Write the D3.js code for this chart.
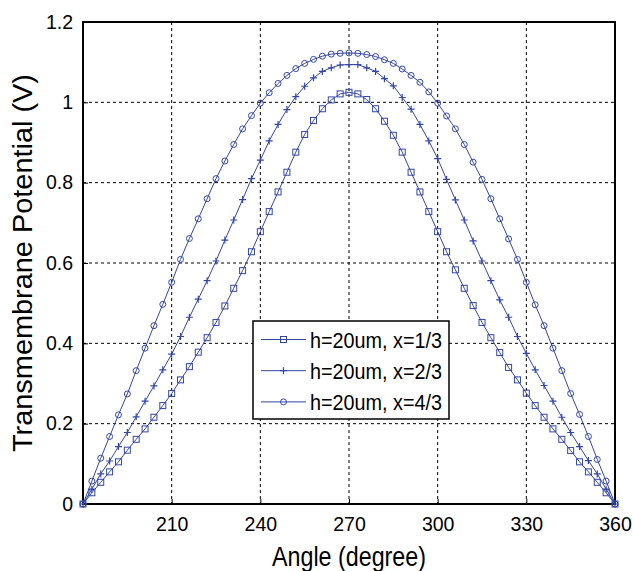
<!DOCTYPE html>
<html>
<head>
<meta charset="utf-8">
<script src="https://cdn.jsdelivr.net/npm/d3@7"></script>
<style>
  body { margin: 0; background: #fff; }
  svg text { font-family: "Liberation Sans", Arial, sans-serif; fill: #000; }
</style>
</head>
<body>
<div id="chart"></div>
<script>
// Transmembrane potential vs angle, three electrode positions

const angles = [180, 183, 186, 189, 192, 195, 198, 201, 204, 207, 210, 213, 216, 219, 222, 225, 228, 231, 234, 237,
    240, 243, 246, 249, 252, 255, 258, 261, 264, 267, 270, 273, 276, 279, 282, 285, 288, 291, 294, 297,
    300, 303, 306, 309, 312, 315, 318, 321, 324, 327, 330, 333, 336, 339, 342, 345, 348, 351, 354, 357, 360];

// x = 1/3 (squares)
const seriesA = [0, 0.028, 0.054, 0.080, 0.105, 0.134, 0.161, 0.187, 0.216, 0.245, 0.275, 0.309, 0.342, 0.378, 0.414, 0.452, 0.493, 0.537, 0.581, 0.628,
    0.678, 0.728, 0.777, 0.826, 0.876, 0.920, 0.955, 0.984, 1.006, 1.021, 1.025, 1.021, 1.007, 0.984, 0.953, 0.918, 0.876, 0.826, 0.777, 0.728,
    0.678, 0.628, 0.583, 0.537, 0.494, 0.452, 0.414, 0.377, 0.340, 0.309, 0.276, 0.245, 0.216, 0.187, 0.161, 0.133, 0.105, 0.080, 0.054, 0.028, 0];

// x = 2/3 (plus)
const seriesB = [0, 0.037, 0.075, 0.107, 0.143, 0.178, 0.217, 0.256, 0.294, 0.334, 0.373, 0.417, 0.465, 0.510, 0.556, 0.605, 0.657, 0.707, 0.758, 0.810,
    0.856, 0.904, 0.945, 0.982, 1.014, 1.040, 1.061, 1.077, 1.086, 1.093, 1.094, 1.094, 1.086, 1.077, 1.059, 1.041, 1.012, 0.983, 0.945, 0.904,
    0.860, 0.808, 0.757, 0.707, 0.655, 0.605, 0.556, 0.508, 0.465, 0.417, 0.375, 0.334, 0.295, 0.256, 0.216, 0.178, 0.143, 0.108, 0.075, 0.037, 0];

// x = 4/3 (circles)
const seriesC = [0, 0.057, 0.114, 0.168, 0.222, 0.274, 0.332, 0.388, 0.444, 0.497, 0.552, 0.609, 0.661, 0.710, 0.760, 0.810, 0.854, 0.895, 0.934, 0.967,
    0.998, 1.024, 1.047, 1.067, 1.084, 1.097, 1.107, 1.115, 1.120, 1.122, 1.123, 1.122, 1.119, 1.114, 1.106, 1.097, 1.083, 1.067, 1.050, 1.026,
    0.998, 0.966, 0.934, 0.895, 0.851, 0.808, 0.760, 0.710, 0.660, 0.609, 0.552, 0.496, 0.444, 0.388, 0.332, 0.275, 0.223, 0.168, 0.111, 0.057, 0];

const seriesNames = ["h=20um, x=1/3", "h=20um, x=2/3", "h=20um, x=4/3"];
const markerTypes = ["square", "plus", "circle"];

const xTicks = [210, 240, 270, 300, 330, 360];
const yTicks = [0, 0.2, 0.4, 0.6, 0.8, 1, 1.2];
const yTickLabels = ["0", "0.2", "0.4", "0.6", "0.8", "1", "1.2"];

const lineColor = "#3346a6";

const W = 633, H = 571;
const margin = { top: 22, right: 18, bottom: 67, left: 83 };
const width = W - margin.left - margin.right;
const height = H - margin.top - margin.bottom;

const svg = d3.select("#chart")
    .append("svg")
    .attr("width", W)
    .attr("height", H);

const g = svg.append("g")
    .attr("transform", `translate(${margin.left},${margin.top})`);

const x = d3.scaleLinear().domain([180, 360]).range([0, width]);
const y = d3.scaleLinear().domain([0, 1.2]).range([height, 0]);

// Grid (dashed)
g.append("g")
    .selectAll("line")
    .data(xTicks.filter(d => d < 360))
    .enter()
    .append("line")
    .attr("x1", d => x(d)).attr("x2", d => x(d))
    .attr("y1", 0).attr("y2", height)
    .attr("stroke", "#000")
    .attr("stroke-width", 1)
    .attr("stroke-dasharray", "3,3");

g.append("g")
    .selectAll("line")
    .data(yTicks.filter(d => d > 0 && d < 1.2))
    .enter()
    .append("line")
    .attr("x1", 0).attr("x2", width)
    .attr("y1", d => y(d)).attr("y2", d => y(d))
    .attr("stroke", "#000")
    .attr("stroke-width", 1)
    .attr("stroke-dasharray", "3,3");

// Axes
const xAxis = g.append("g")
    .attr("transform", `translate(0,${height})`)
    .call(d3.axisBottom(x).tickValues(xTicks).tickSizeInner(-5).tickSizeOuter(0).tickPadding(13));

const yAxis = g.append("g")
    .call(d3.axisLeft(y).tickValues(yTicks).tickFormat((d, i) => yTickLabels[i]).tickSizeInner(-5).tickSizeOuter(0).tickPadding(10));

[xAxis, yAxis].forEach(ax => {
    ax.select(".domain").remove();
    ax.selectAll(".tick line").attr("stroke", "#000");
    ax.selectAll(".tick text")
        .style("font-family", '"Liberation Sans", Arial, sans-serif')
        .style("font-size", "19.5px")
        .attr("fill", "#000");
});
xAxis.selectAll(".tick text").attr("dy", "0.71em");

// Frame
g.append("rect")
    .attr("x", 0).attr("y", 0)
    .attr("width", width).attr("height", height)
    .attr("fill", "none")
    .attr("stroke", "#000")
    .attr("stroke-width", 2);

// Series
const allSeries = [seriesA, seriesB, seriesC];

const line = d3.line()
    .x((d, i) => x(angles[i]))
    .y(d => y(d));

function drawMarker(sel, type, cx, cy) {
    if (type === "square") {
        sel.append("rect")
            .attr("x", cx - 3).attr("y", cy - 3)
            .attr("width", 6).attr("height", 6)
            .attr("fill", "none")
            .attr("stroke", lineColor)
            .attr("stroke-width", 1);
    } else if (type === "plus") {
        sel.append("path")
            .attr("d", `M${cx - 3.5},${cy}H${cx + 3.5}M${cx},${cy - 3.5}V${cy + 3.5}`)
            .attr("stroke", lineColor)
            .attr("stroke-width", 1.2);
    } else {
        sel.append("circle")
            .attr("cx", cx).attr("cy", cy)
            .attr("r", 3)
            .attr("fill", "none")
            .attr("stroke", lineColor)
            .attr("stroke-width", 1);
    }
}

allSeries.forEach((vals, s) => {
    g.append("path")
        .datum(vals)
        .attr("fill", "none")
        .attr("stroke", lineColor)
        .attr("stroke-width", 1)
        .attr("d", line);

    const mg = g.append("g");
    vals.forEach((v, i) => {
        drawMarker(mg, markerTypes[s], x(angles[i]), y(v));
    });
});

// Axis titles
svg.append("text")
    .attr("x", margin.left + width / 2)
    .attr("y", 566)
    .attr("text-anchor", "middle")
    .attr("textLength", 154)
    .attr("lengthAdjust", "spacingAndGlyphs")
    .style("font-size", "27px")
    .text("Angle (degree)");

svg.append("text")
    .attr("transform", `translate(32,${margin.top + height / 2}) rotate(-90)`)
    .attr("text-anchor", "middle")
    .attr("textLength", 378)
    .attr("lengthAdjust", "spacingAndGlyphs")
    .style("font-size", "27px")
    .text("Transmembrane Potential (V)");

// Legend
const legend = svg.append("g").attr("transform", "translate(253,321)");
legend.append("rect")
    .attr("width", 196).attr("height", 98)
    .attr("fill", "#fff")
    .attr("stroke", "#000")
    .attr("stroke-width", 1.5);

seriesNames.forEach((name, i) => {
    const ry = 18.5 + i * 31.2;
    legend.append("line")
        .attr("x1", 8).attr("x2", 53)
        .attr("y1", ry).attr("y2", ry)
        .attr("stroke", lineColor)
        .attr("stroke-width", 1);
    drawMarker(legend, markerTypes[i], 30.5, ry);
    legend.append("text")
        .attr("x", 57)
        .attr("y", ry + 8)
        .attr("textLength", 132)
        .attr("lengthAdjust", "spacingAndGlyphs")
        .style("font-size", "22px")
        .text(name);
});
</script>
</body>
</html>
